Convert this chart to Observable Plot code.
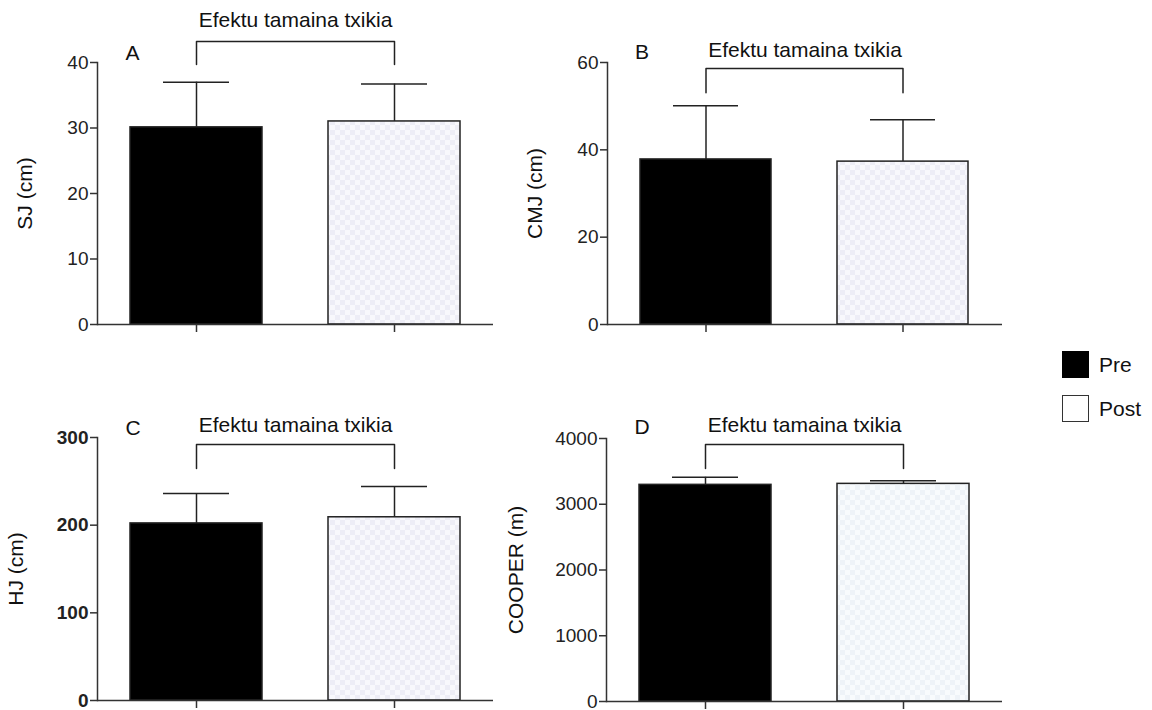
<!DOCTYPE html>
<html>
<head>
<meta charset="utf-8">
<script src="https://cdn.jsdelivr.net/npm/d3@7"></script>
<script src="https://cdn.jsdelivr.net/npm/@observablehq/plot@0.6"></script>
<style>
  html, body { margin: 0; padding: 0; background: #fff; }
  #root { position: relative; width: 1152px; height: 710px; font-family: "Liberation Sans", Arial, sans-serif; color: #111; }
  .panel { position: absolute; }
  .sw { position: absolute; box-sizing: border-box; }
  .lg { position: absolute; font-size: 21px; line-height: 1; }
</style>
</head>
<body>
<div id="root">
  <svg width="0" height="0" style="position:absolute">
    <defs>
      <pattern id="chk" width="10" height="10" patternUnits="userSpaceOnUse">
        <rect width="10" height="10" fill="#f8f8fc"></rect>
        <rect width="5" height="5" fill="#ededf6"></rect>
        <rect x="5" y="5" width="5" height="5" fill="#ededf6"></rect>
      </pattern>
      <pattern id="chkD" width="10" height="10" patternUnits="userSpaceOnUse">
        <rect width="10" height="10" fill="#f8fbfd"></rect>
        <rect width="5" height="5" fill="#eef3f8"></rect>
        <rect x="5" y="5" width="5" height="5" fill="#eef3f8"></rect>
      </pattern>
    </defs>
  </svg>
</div>
<script>
// ---- data ----
const groups = ["Pre", "Post"];
const panelLetters = ["A", "B", "C", "D"];
const yLabels = ["SJ (cm)", "CMJ (cm)", "HJ (cm)", "COOPER (m)"];
const annotation = "Efektu tamaina txikia";

const sjMean = [30.1, 31.0];
const sjSD = [6.9, 5.7];
const cmjMean = [37.8, 37.3];
const cmjSD = [12.3, 9.6];
const hjMean = [202, 209];
const hjSD = [34, 35];
const cooperMean = [3295, 3310];
const cooperSD = [115, 48];

const sjTicks = [0, 10, 20, 30, 40];
const cmjTicks = [0, 20, 40, 60];
const hjTicks = [0, 100, 200, 300];
const cooperTicks = [0, 1000, 2000, 3000, 4000];

// bracket / annotation levels in data units: [leg bottom, bracket top, text, letter]
const sjBracket = [39.7, 43.2, 46.5, 41.4];
const cmjBracket = [53.1, 58.6, 62.7, 62.3];
const hjBracket = [264.6, 292, 313.7, 311];
const cooperBracket = [3544, 3909, 4198, 4167];

const legendItems = ["Pre", "Post"];

// ---- panels ----
const panels = [
  {mean: sjMean, sd: sjSD, ticks: sjTicks, bracket: sjBracket, letter: 0, left: 0, top: 0, width: 510, height: 345,
   mL: 97, mR: 17, mT: 62, mB: 21, labelOffset: 80, bold: false, pat: "url(#chk)"},
  {mean: cmjMean, sd: cmjSD, ticks: cmjTicks, bracket: cmjBracket, letter: 1, left: 500, top: 0, width: 520, height: 345,
   mL: 107, mR: 18, mT: 62, mB: 21, labelOffset: 80, bold: false, pat: "url(#chk)"},
  {mean: hjMean, sd: hjSD, ticks: hjTicks, bracket: hjBracket, letter: 2, left: 0, top: 390, width: 510, height: 320,
   mL: 97, mR: 17, mT: 47, mB: 10, labelOffset: 89, bold: true, pat: "url(#chk)"},
  {mean: cooperMean, sd: cooperSD, ticks: cooperTicks, bracket: cooperBracket, letter: 3, left: 480, top: 390, width: 540, height: 320,
   mL: 126, mR: 18, mT: 48, mB: 9, labelOffset: 98, bold: false, pat: "url(#chkD)"}
];

const root = document.getElementById("root");

panels.forEach((p) => {
  const rows = groups.map((g, i) => ({group: g, mean: p.mean[i], top: p.mean[i] + p.sd[i]}));
  const b = p.bracket;
  const bracketPts = [
    {group: "Pre", y: b[0]}, {group: "Pre", y: b[1]},
    {group: "Post", y: b[1]}, {group: "Post", y: b[0]}
  ];
  const yMax = p.ticks[p.ticks.length - 1];
  const chart = Plot.plot({
    width: p.width,
    height: p.height,
    marginLeft: p.mL,
    marginRight: p.mR,
    marginTop: p.mT,
    marginBottom: p.mB,
    style: {fontFamily: "'Liberation Sans', Arial, sans-serif", fontSize: "19px", color: "#222", overflow: "visible", background: "transparent"},
    x: {domain: groups, paddingInner: 1/3, paddingOuter: 1/6, axis: null},
    y: {domain: [0, yMax], axis: null},
    color: {domain: groups, range: ["#000000", p.pat]},
    marks: [
      Plot.barY(rows, {x: "group", y: "mean", fill: "group", stroke: "#222", strokeWidth: 1.5}),
      Plot.ruleX(rows, {x: "group", y1: "mean", y2: "top", stroke: "#222", strokeWidth: 1.5}),
      Plot.tickY(rows, {x: "group", y: "top", stroke: "#222", strokeWidth: 1.5, insetLeft: 33, insetRight: 33}),
      Plot.ruleY([0], {stroke: "#333", strokeWidth: 1.5}),
      Plot.frame({anchor: "left", stroke: "#333", strokeWidth: 1.5}),
      Plot.axisY({ticks: p.ticks, tickSize: 7, tickPadding: 2, label: null, tickFormat: d => String(d),
        fontSize: 19, fontWeight: p.bold ? "bold" : "normal", stroke: "#333", strokeWidth: 1.5}),
      Plot.axisX({tickSize: 8, tickFormat: () => "", label: null, stroke: "#333", strokeWidth: 1.5}),
      Plot.text([yLabels[p.letter]], {text: d => d, frameAnchor: "left", rotate: -90, dx: -p.labelOffset,
        textAnchor: "middle", lineAnchor: "top", fontSize: 21, fill: "#111"}),
      Plot.line(bracketPts, {x: "group", y: "y", stroke: "#222", strokeWidth: 1.5, clip: false}),
      Plot.text([annotation], {text: d => d, y: [b[2]], frameAnchor: "middle", fontSize: 21, fill: "#111"}),
      Plot.text([panelLetters[p.letter]], {text: d => d, x: ["Pre"], y: [b[3]], textAnchor: "start", dx: -71, fontSize: 21, fill: "#111"})
    ]
  });
  chart.classList.add("panel");
  chart.style.left = p.left + "px";
  chart.style.top = p.top + "px";
  root.appendChild(chart);
});

// ---- legend ----
const lg = [
  {label: legendItems[0], top: 351, fill: "#000", border: "1.5px solid #000"},
  {label: legendItems[1], top: 395, fill: "#fff", border: "1.5px solid #333"}
];
lg.forEach((d) => {
  const sw = document.createElement("div");
  sw.className = "sw";
  sw.style.cssText = `left:1062px;top:${d.top}px;width:27px;height:27px;background:${d.fill};border:${d.border};`;
  root.appendChild(sw);
  const t = document.createElement("div");
  t.className = "lg";
  t.textContent = d.label;
  t.style.left = "1099px";
  t.style.top = (d.top + 3) + "px";
  root.appendChild(t);
});
</script>
</body>
</html>
